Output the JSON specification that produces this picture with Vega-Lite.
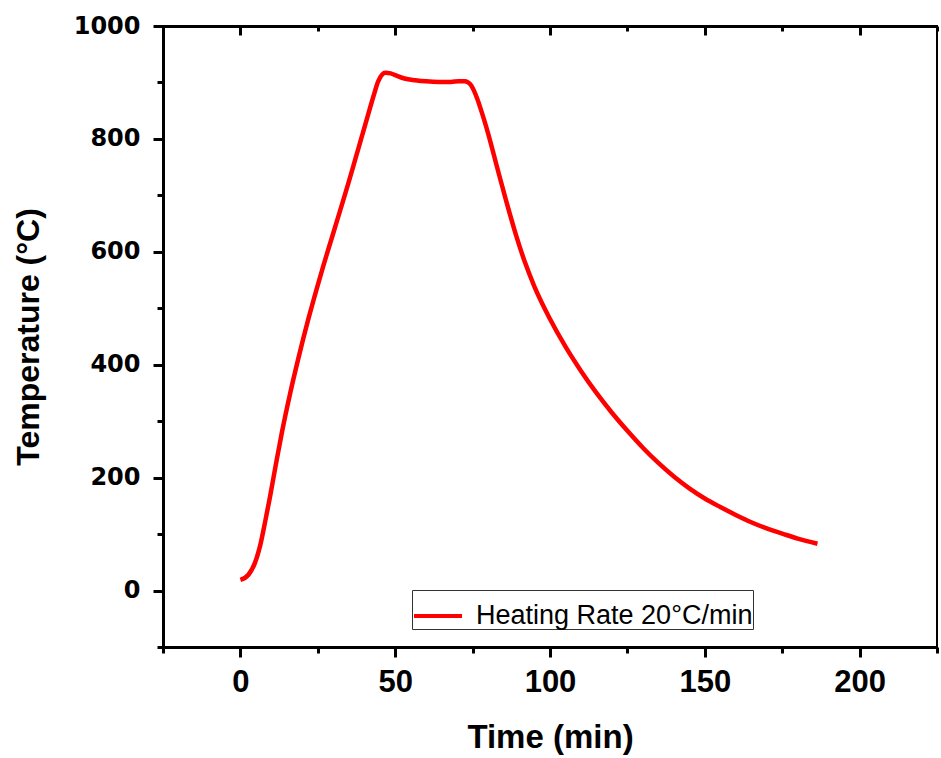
{
  "$schema": "https://vega.github.io/schema/vega-lite/v6.json",
  "autosize": "none",
  "width": 774,
  "height": 621,
  "padding": {"left": 163, "top": 26, "right": 4, "bottom": 111},
  "background": "white",
  "config": {
    "view": {"stroke": "black", "strokeWidth": 2},
    "axis": {"grid": false, "domainColor": "black", "tickColor": "black", "labelColor": "black", "titleColor": "black", "domainWidth": 3, "tickWidth": 3}
  },
  "data": {"values": [
    {"t": 0, "T": 19}, {"t": 2.6, "T": 28}, {"t": 4.7, "T": 49}, {"t": 6.4, "T": 80},
    {"t": 8, "T": 122}, {"t": 9.6, "T": 167}, {"t": 11.5, "T": 225}, {"t": 13.4, "T": 280},
    {"t": 16.1, "T": 350}, {"t": 18.8, "T": 413}, {"t": 22, "T": 482}, {"t": 26.3, "T": 566},
    {"t": 30.6, "T": 644}, {"t": 34.9, "T": 722}, {"t": 37, "T": 762}, {"t": 39, "T": 800},
    {"t": 41, "T": 838}, {"t": 43, "T": 876}, {"t": 44.5, "T": 902}, {"t": 45.8, "T": 914},
    {"t": 46.8, "T": 917}, {"t": 48.5, "T": 916}, {"t": 50, "T": 913}, {"t": 53, "T": 907},
    {"t": 56.5, "T": 904}, {"t": 60, "T": 902}, {"t": 64, "T": 901}, {"t": 68, "T": 901},
    {"t": 70.5, "T": 902}, {"t": 72.5, "T": 902}, {"t": 73.5, "T": 900}, {"t": 74.5, "T": 895},
    {"t": 75.4, "T": 886}, {"t": 76.5, "T": 871}, {"t": 77.5, "T": 855}, {"t": 80, "T": 810},
    {"t": 83, "T": 748}, {"t": 86, "T": 687}, {"t": 89, "T": 630}, {"t": 92, "T": 580},
    {"t": 95, "T": 538}, {"t": 100, "T": 481}, {"t": 105, "T": 432}, {"t": 110, "T": 389},
    {"t": 115, "T": 350}, {"t": 120, "T": 315}, {"t": 125, "T": 283}, {"t": 130, "T": 253},
    {"t": 135, "T": 226}, {"t": 140, "T": 202}, {"t": 145, "T": 181}, {"t": 150, "T": 163},
    {"t": 155, "T": 148}, {"t": 160, "T": 134}, {"t": 165, "T": 121}, {"t": 170, "T": 110},
    {"t": 175, "T": 101}, {"t": 180, "T": 92}, {"t": 186.4, "T": 83}
  ]},
  "layer": [
    {
      "mark": {"type": "line", "strokeWidth": 4.5, "interpolate": "monotone"},
      "encoding": {
        "x": {"field": "t", "type": "quantitative",
          "scale": {"domain": [-25, 225], "nice": false, "zero": false},
          "axis": {"orient": "bottom", "title": "Time (min)", "format": "d",
            "values": [-25, 0, 25, 50, 75, 100, 125, 150, 175, 200, 225],
            "labelExpr": "datum.value % 50 === 0 ? datum.label : ''",
            "tickSize": {"condition": {"test": "datum.value % 50 === 0", "value": 10}, "value": 6},
            "labelFont": "Liberation Sans", "labelFontWeight": "bold", "labelFontSize": 31,
            "labelPadding": 10, "labelFlush": false, "labelOverlap": false,
            "titleFont": "Liberation Sans", "titleFontWeight": "bold", "titleFontSize": 33, "titlePadding": 24}},
        "y": {"field": "T", "type": "quantitative",
          "scale": {"domain": [-100, 1000], "nice": false, "zero": false},
          "axis": {"orient": "left", "title": "Temperature (°C)", "format": "d",
            "values": [-100, 0, 100, 200, 300, 400, 500, 600, 700, 800, 900, 1000],
            "labelExpr": "datum.value % 200 === 0 ? datum.label : ''",
            "tickSize": {"condition": {"test": "datum.value % 200 === 0", "value": 10}, "value": 6},
            "labelFont": "DejaVu Sans", "labelFontWeight": "bold", "labelFontSize": 24,
            "labelPadding": 13, "labelFlush": false, "labelOverlap": false,
            "titleFont": "Liberation Sans", "titleFontWeight": "bold", "titleFontSize": 32, "titlePadding": 28}},
        "color": {"datum": "Heating Rate 20°C/min", "type": "nominal",
          "scale": {"range": ["#ff0000"]},
          "legend": {"title": null, "orient": "none", "legendX": 249, "legendY": 564,
            "symbolType": "stroke", "symbolSize": 2304, "symbolStrokeWidth": 4,
            "labelFont": "Liberation Sans", "labelFontSize": 27, "labelColor": "black", "labelOffset": 12,
            "labelLimit": 0, "strokeColor": "#333333", "padding": 0}}
      }
    },
    {
      "mark": {"type": "line", "opacity": 0},
      "encoding": {
        "x": {"field": "t", "type": "quantitative",
          "scale": {"domain": [-25, 225], "nice": false, "zero": false},
          "axis": {"orient": "top", "title": null, "labels": false,
            "values": [-25, 0, 25, 50, 75, 100, 125, 150, 175, 200, 225],
            "tickSize": {"condition": {"test": "datum.value % 50 === 0", "value": -9}, "value": -5}}},
        "y": {"field": "T", "type": "quantitative"}
      }
    }
  ],
  "resolve": {"axis": {"x": "independent"}}
}
